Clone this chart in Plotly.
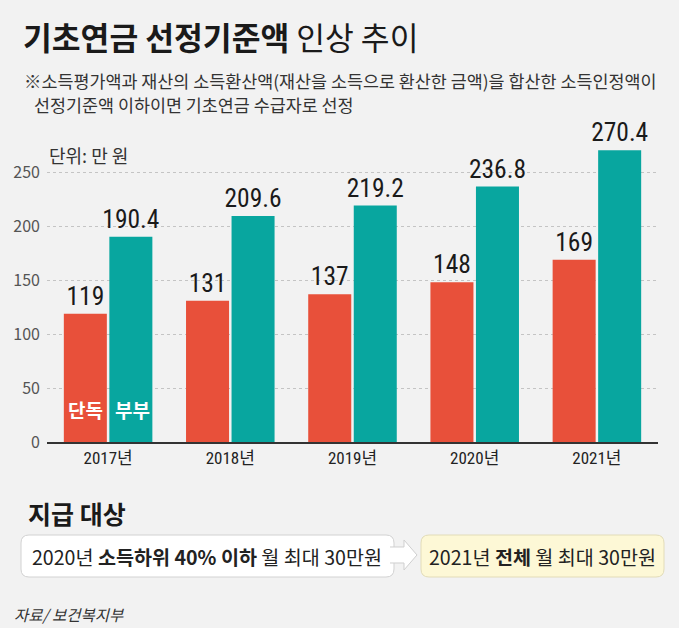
import plotly.graph_objects as go

# ---- data ----
years = ["2017년", "2018년", "2019년", "2020년", "2021년"]
single = [119, 131, 137, 148, 169]        # 단독
couple = [190.4, 209.6, 219.2, 236.8, 270.4]  # 부부
y_ticks = [0, 50, 100, 150, 200, 250]

RED = "#E8503A"
TEAL = "#08A69F"
BG = "#F2F2F2"
KR = "Noto Sans CJK KR"
NARROW = "Roboto Condensed, DejaVu Sans Condensed, Liberation Sans Narrow, Noto Sans CJK KR, sans-serif"

W, H = 679, 628
L, R, T, B = 47, 658, 140, 442
PW, PH = R - L, B - T


def px(x):
    return (x - L) / PW


def py(y):
    return (B - y) / PH


def fmt(v):
    return f"{v:g}"


fig = go.Figure()
fig.add_trace(go.Bar(
    x=years, y=single, name="단독", marker=dict(color=RED, line=dict(width=0)),
    text=[fmt(v) for v in single], textposition="outside", constraintext="none",
    textfont=dict(family=NARROW, size=25.5, color="#1a1a1a"), cliponaxis=False,
    hoverinfo="skip"))
fig.add_trace(go.Bar(
    x=years, y=couple, name="부부", marker=dict(color=TEAL, line=dict(width=0)),
    text=[fmt(v) for v in couple], textposition="outside", constraintext="none",
    textfont=dict(family=NARROW, size=25.5, color="#1a1a1a"), cliponaxis=False,
    hoverinfo="skip"))

fig.update_layout(
    width=W, height=H,
    margin=dict(l=L, r=W - R, t=T, b=H - B, pad=0),
    paper_bgcolor=BG, plot_bgcolor=BG,
    barmode="group", bargap=0.255, bargroupgap=0.055,
    showlegend=False,
    font=dict(family=KR, color="#222"),
)
fig.update_xaxes(
    showline=True, linecolor="#333", linewidth=2, ticks="",
    tickfont=dict(family=NARROW, size=17, color="#222"),
    showgrid=False, fixedrange=True)
fig.update_yaxes(
    range=[0, 280], tickvals=y_ticks, ticks="",
    tickfont=dict(family=KR, size=16, color="#555"),
    showgrid=True, gridcolor="#C4C4C4", griddash="dot", gridwidth=1,
    zeroline=False, showline=False, fixedrange=True, ticklabelstandoff=6)

ann = []


def text(x, y, s, size, color="#222", anchor="left", family=KR):
    ann.append(dict(x=px(x), y=py(y), xref="paper", yref="paper", text=s,
                    showarrow=False, xanchor=anchor, yanchor="middle",
                    font=dict(family=family, size=size, color=color)))


text(21, 36, "<b>기초연금 선정기준액</b> 인상 추이", 31.3, "#1a1a1a")
text(22, 80, "※소득평가액과 재산의 소득환산액(재산을 소득으로 환산한 금액)을 합산한 소득인정액이", 17.4, "#333")
text(32, 105, "선정기준액 이하이면 기초연금 수급자로 선정", 17.4, "#333")
text(47, 155, "단위: 만 원", 18, "#333")
text(26, 513, "<b>지급 대상</b>", 25, "#1a1a1a")
text(207, 556, "2020년 <b>소득하위 40% 이하</b> 월 최대 30만원", 19.6, "#222", "center")
text(542, 556, "2021년 <b>전체</b> 월 최대 30만원", 19.6, "#222", "center")
ann.append(dict(x=px(12), y=py(614), xref="paper", yref="paper",
                text="<i>자료/ 보건복지부</i>", showarrow=False, xanchor="left",
                yanchor="middle", font=dict(family=KR, size=15.5, color="#333")))

# series labels inside the first pair of bars
for name, xs in (("단독", -23), ("부부", 24)):
    ann.append(dict(x=years[0], y=30, xref="x", yref="y", xshift=xs,
                    text=f"<b>{name}</b>", showarrow=False,
                    font=dict(family=KR, size=19, color="white")))

fig.update_layout(annotations=ann)


def rrect(x0, y0, x1, y1, r):
    pts = [
        ("M", [(x0 + r, y0)]), ("L", [(x1 - r, y0)]), ("Q", [(x1, y0), (x1, y0 + r)]),
        ("L", [(x1, y1 - r)]), ("Q", [(x1, y1), (x1 - r, y1)]), ("L", [(x0 + r, y1)]),
        ("Q", [(x0, y1), (x0, y1 - r)]), ("L", [(x0, y0 + r)]), ("Q", [(x0, y0), (x0 + r, y0)]),
    ]
    s = ""
    for cmd, ps in pts:
        s += cmd + " " + " ".join(f"{px(a):.5f},{py(b):.5f}" for a, b in ps) + " "
    return s + "Z"


def poly(points, close=True):
    s = "M " + " L ".join(f"{px(a):.5f},{py(b):.5f}" for a, b in points)
    return s + (" Z" if close else "")


shapes = [
    dict(type="path", xref="paper", yref="paper", path=rrect(21, 535, 394, 577, 8),
         fillcolor="white", line=dict(color="#D2D2D2", width=1), layer="below"),
    dict(type="path", xref="paper", yref="paper",
         path=poly([(390, 547), (404, 547), (404, 540), (417, 555), (404, 570), (404, 563), (390, 563)], close=False),
         fillcolor="white", line=dict(color="#CFCFCF", width=1), layer="below"),
    dict(type="path", xref="paper", yref="paper", path=rrect(421, 535, 664, 577, 8),
         fillcolor="#FDF8D6", line=dict(color="#E2DCB8", width=1), layer="below"),
]
fig.update_layout(shapes=shapes)

fig.write_html("out.html", config={"displayModeBar": False},
               post_script="document.body.style.margin='0';document.body.style.padding='0';")
